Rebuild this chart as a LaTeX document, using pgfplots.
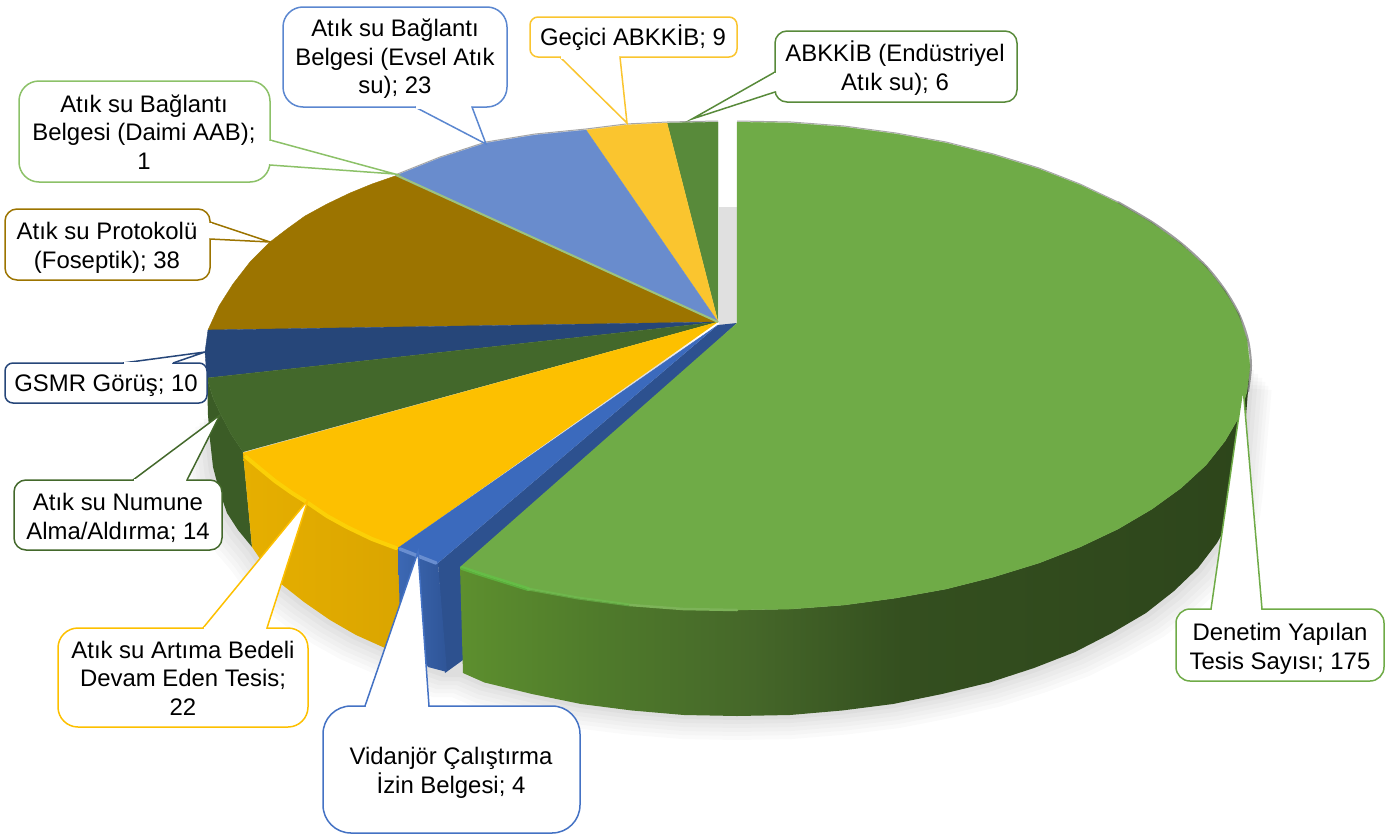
\documentclass[border=0pt]{standalone}
\usepackage{fontspec}
\setmainfont{Liberation Sans}
\usepackage{pgfplots}
\usepackage{pgfplotstable}
\pgfplotsset{compat=1.18}
\definecolor{cGreen}{HTML}{6FAB47}
\definecolor{cYellow}{HTML}{FDC000}
\definecolor{cDkGreen}{HTML}{43682B}
\definecolor{cNavy}{HTML}{264679}
\definecolor{cBrown}{HTML}{9C7400}
\definecolor{cLime}{HTML}{9DC37E}
\definecolor{cLimeLine}{HTML}{8CC168}
\definecolor{cLtBlue}{HTML}{698CCD}
\definecolor{cLtBlueLine}{HTML}{5B87D0}
\definecolor{cLtYellow}{HTML}{FAC52F}
\definecolor{cMidGreen}{HTML}{588A3A}
\definecolor{cBlue}{HTML}{3B6ABD}
\definecolor{cBlueLine}{HTML}{4472C4}
\definecolor{sgA}{HTML}{5D8F2E}
\definecolor{sgB}{HTML}{4F7A2B}
\definecolor{sgC}{HTML}{456729}
\definecolor{sgD}{HTML}{344F1F}
\definecolor{sgE}{HTML}{2D451B}
\definecolor{syA}{HTML}{E6AF00}
\definecolor{syB}{HTML}{DAA500}
\definecolor{sbA}{HTML}{3C68B4}
\definecolor{sbB}{HTML}{2F5597}
\pgfdeclarehorizontalshading{sidegreen}{100bp}{color(0bp)=(sgA); color(25bp)=(sgA); color(34bp)=(sgB); color(43.5bp)=(sgC); color(53bp)=(sgD); color(75bp)=(sgE); color(100bp)=(sgE)}
\pgfdeclarehorizontalshading{sideyellow}{100bp}{color(0bp)=(syA); color(25bp)=(syA); color(75bp)=(syB); color(100bp)=(syB)}
\pgfdeclarehorizontalshading{sideblue}{100bp}{color(0bp)=(sbA); color(25bp)=(sbA); color(75bp)=(sbB); color(100bp)=(sbB)}
\pgfplotstableread{
x y
1242 466
1239 492
1231 518
1217 543
1198 568
1174 591
1146 613
1112 633
1075 652
1034 668
989.5 682.5
942 694
893 704
842 710.5
790 715
737 716
684 715
632 710.5
581 704
532 694
484.5 682.5
463 673
445 673
428 667
385 648
356 635
330 620
304 602
280 583
265 566
252 547
238 530
227 513
219 490
213 467
210 440
208 415
720 330
1250 366
}\shadowtab
% callout: colour, x1,y1,x2,y2, radius, p1, tip, p2
\newcommand\callout[9]{%
  \draw[draw=#1,fill=white,line width=1.5pt,rounded corners=#6pt] (#2,#3) rectangle (#4,#5);
  \fill[white] (#7) -- (#8) -- (#9) -- cycle;
  \draw[#1,line width=1.5pt,miter limit=20] (#7) -- (#8) -- (#9);
  \draw[white,line width=3pt,shorten >=1.2pt,shorten <=1.2pt] (#7) -- (#9);
}
\begin{document}
\begin{tikzpicture}
\begin{axis}[
  scale only axis, width=1397pt, height=838pt,
  xmin=0, xmax=1397, ymin=0, ymax=838, y dir=reverse,
  hide axis, clip=false,
  every axis plot/.append style={mark=none},
  nodes={font=\fontsize{23.9}{28.5}\selectfont, text=black, align=center, inner sep=0pt},
]
\path (0,0) -- (1397,838);
% soft shadow
\addplot[draw=none,fill=black,fill opacity=.018] table[x expr=737+(\thisrow{x}-737)*1.042,y expr=\thisrow{y}+24]{\shadowtab};
\addplot[draw=none,fill=black,fill opacity=.02] table[x expr=737+(\thisrow{x}-737)*1.036,y expr=\thisrow{y}+20]{\shadowtab};
\addplot[draw=none,fill=black,fill opacity=.02] table[x expr=737+(\thisrow{x}-737)*1.03,y expr=\thisrow{y}+16]{\shadowtab};
\addplot[draw=none,fill=black,fill opacity=.02] table[x expr=737+(\thisrow{x}-737)*1.024,y expr=\thisrow{y}+12]{\shadowtab};
\addplot[draw=none,fill=black,fill opacity=.025] table[x expr=737+(\thisrow{x}-737)*1.016,y expr=\thisrow{y}+8]{\shadowtab};
\addplot[draw=none,fill=black,fill opacity=.03] table[x expr=737+(\thisrow{x}-737)*1.008,y expr=\thisrow{y}+4]{\shadowtab};
% shadow in the gap
\addplot[draw=none,fill=black!12] coordinates {(719,207) (737,207) (737,323) (719,338)};
% dark green side
\addplot[fill=cDkGreen!88!black,draw=none] coordinates {(207,378) (213,398) (220,413) (231,434) (243,452) (252,547) (238,530) (227,513) (219,490) (213,467) (210,440) (208,415)};
% yellow side
\addplot[draw=none,shading=sideyellow] coordinates {(243,453) (258,467) (275,481) (292,493) (308,503) (327,516) (347,527) (372,539) (398,548) (402,600) (385,648) (356,635) (330,620) (304,602) (280,583) (265,566) (252,547)};
% blue inner and front faces
\addplot[fill=sbB!95!black,draw=none] coordinates {(438,563) (718,325) (737,323) (465,572) (463,660) (445,673)};
\addplot[draw=none,shading=sideblue] coordinates {(398,548) (418,556) (438,563) (447,672) (428,667) (400,620)};
% green side
\addplot[draw=none,shading=sidegreen] coordinates {(1250,366) (1247,391.5) (1239,417) (1225,441) (1206,465) (1181,488) (1152,509) (1118,529) (1080,547) (1039,563) (993.5,577) (946,589) (896,598) (844,605) (791,609) (737,610) (683,609) (630,605) (578,598) (528,589) (480,574) (460,567) (463,673) (484.5,682.5) (532,694) (581,704) (632,710.5) (684,715) (737,716) (790,715) (842,710.5) (893,704) (942,694) (989.5,682.5) (1034,668) (1075,652) (1112,633) (1146,613) (1174,591) (1198,568) (1217,543) (1231,518) (1239,492) (1242,466)};
% top faces of the slices
\addplot[fill=cMidGreen,draw=cMidGreen,line width=.4pt] coordinates {(718,322) (718,122) (667,123)};
\addplot[fill=cLtYellow,draw=cLtYellow,line width=.4pt] coordinates {(718,322) (667,123) (626,125) (586,130)};
\addplot[fill=cLtBlue,draw=cLtBlue,line width=.4pt] coordinates {(718,322) (586,130) (535,135) (486,143) (440,158) (395,176)};
\addplot[fill=cBrown,draw=cBrown,line width=.4pt] coordinates {(718,322) (395,176) (372,184) (350,193) (327,204) (305,216) (287,229) (270,242) (250,262) (233,284) (219,306) (208,330)};
\addplot[fill=cNavy,draw=cNavy,line width=.4pt] coordinates {(718,322) (208,330) (205,352) (207,378)};
\addplot[fill=cDkGreen,draw=cDkGreen,line width=.4pt] coordinates {(718,322) (207,378) (213,398) (220,413) (231,434) (243,452)};
\addplot[fill=cYellow,draw=cYellow,line width=.4pt] coordinates {(718,322) (243,453) (258,467) (275,481) (292,493) (308,503) (327,516) (347,527) (372,539) (398,548)};
\addplot[fill=cBlue,draw=cBlue,line width=.4pt] coordinates {(718,325) (398,548) (418,556) (438,563)};
\addplot[cLime,line width=2pt] coordinates {(718,322) (396,175)};
\addplot[fill=cGreen,draw=cGreen,line width=.4pt] coordinates {(737,323) (737,122) (791,123) (844,127) (896,134) (946,143) (993.5,155) (1039,169) (1080,185) (1118,203) (1152,223) (1181,244) (1206,267) (1225,291) (1239,315) (1247,340) (1250,366) (1247,391.5) (1239,417) (1225,441) (1206,465) (1181,488) (1152,509) (1118,529) (1080,547) (1039,563) (993.5,577) (946,589) (896,598) (844,605) (791,609) (737,610) (683,609) (630,605) (578,598) (528,589) (480,574) (460,567)};
% bevel highlights
\addplot[color=yellow!35!cYellow,line width=4pt,line cap=round] coordinates {(246,457) (258,467) (275,481) (292,493) (308,503) (327,516) (347,527) (372,539) (396,548)};
\addplot[color=cBlueLine!80!white,line width=3.5pt,line cap=round] coordinates {(400,549) (418,556) (436,563)};
\addplot[color=cGreen!70!green!90!white,line width=4pt,line cap=round,opacity=.6] coordinates {(462,568) (480,574) (528,589)};
\addplot[color=cGreen!85!green!90!white,line width=3pt,line cap=round,opacity=.6] coordinates {(528,589) (578,598) (630,605)};
\addplot[color=cGreen!90!white,line width=2.5pt,line cap=round] coordinates {(630,605) (683,609) (737,610)};
% grey fringe on the back edge
\addplot[color=gray,opacity=.7,line width=1pt] coordinates {(395,175) (440,157) (486,142) (535,134) (586,129) (626,124) (667,122) (718,121)};
\addplot[color=gray,opacity=.7,line width=1pt] coordinates {(737,121) (791,122) (844,126) (896,133) (946,142) (993.5,154) (1039,168) (1080,184) (1118,202)};
\addplot[smooth,color=black!70,opacity=.55,line width=2pt] coordinates {(1118,202) (1152,222) (1181,243) (1206,266) (1225,290) (1239,314) (1248,340) (1251,366) (1248,392)};
% callouts
\callout{cGreen}{1176}{609}{1384}{681}{14}{1211,609}{1243,387}{1262,609}
\node at (1280,649) {Denetim Yapılan\\Tesis Sayısı; 175};
\callout{cBlueLine}{323}{706}{580}{833}{28}{365,706}{418,552}{429,706}
\node at (451,773) {Vidanjör Çalıştırma\\İzin Belgesi; 4};
\callout{cYellow}{58}{628}{308}{727}{20}{203,628}{308,500}{267,628}
\node at (183,678) {Atık su Artıma Bedeli\\Devam Eden Tesis;\\22};
\callout{cDkGreen}{14}{480}{222}{550}{12}{133,480}{220,415}{187,480}
\node at (118,518) {Atık su Numune\\Alma/Aldırma; 14};
\callout{cNavy}{5}{363}{207}{403}{8}{123,363}{205,352}{173,363}
\node at (106,386) {GSMR Görüş; 10};
\callout{cBrown}{5}{209}{210}{280}{12}{210,222}{270,242}{210,239}
\node at (107,248) {Atık su Protokolü\\(Foseptik); 38};
\callout{cLimeLine}{19}{81}{270}{182}{20}{270,140}{395,174}{270,165}
\node at (144,132) {Atık su Bağlantı\\Belgesi (Daimi AAB);\\1};
\callout{cLtBlueLine}{283}{7}{507}{107}{20}{415,107}{486,144}{472,107}
\node at (395,59) {Atık su Bağlantı\\Belgesi (Evsel Atık\\su); 23};
\callout{cLtYellow}{530}{17}{737}{57}{8}{560,57}{627,123}{620,57}
\node at (633,38) {Geçici ABKKİB; 9};
\callout{cMidGreen}{775}{31}{1017}{102}{12}{775,72}{692,119}{775,92}
\node at (895,68) {ABKKİB (Endüstriyel\\Atık su); 6};
\end{axis}
\end{tikzpicture}
\end{document}
